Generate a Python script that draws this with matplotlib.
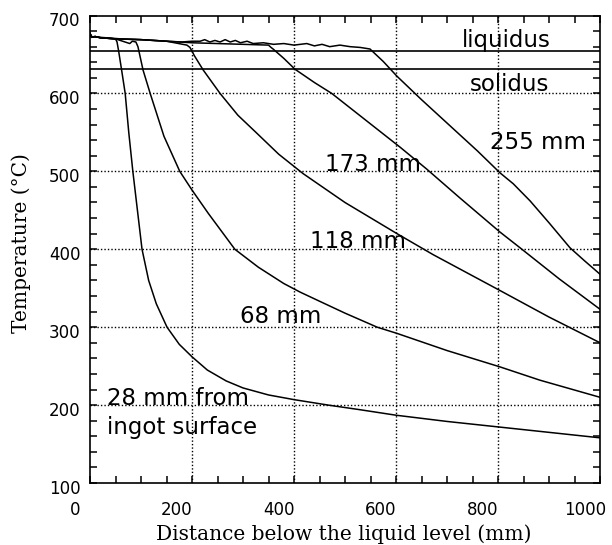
import matplotlib
matplotlib.use("Agg")
import matplotlib.pyplot as plt
from matplotlib.ticker import MultipleLocator
from matplotlib.transforms import ScaledTranslation

# ---------------- data ----------------
# common liquid plateau (distance mm, temperature C)
plateau_x = [0, 3, 10, 20, 50, 100, 150, 200, 250, 300, 350, 400, 450, 500, 540]
plateau_T = [677, 672, 673, 671.5, 670, 669, 667, 665, 664, 663, 662, 661.5, 660.5, 659, 658]

# 28 mm from ingot surface
c28_x = [53, 56, 62, 69, 76, 84, 93, 102, 115, 130, 151, 175, 200, 230, 267, 300,
         350, 400, 467, 530, 600, 700, 800, 900, 1000]
c28_T = [666, 655, 630, 600, 550, 500, 450, 400, 360, 330, 300, 278, 262, 245, 231, 222,
         213, 207, 200, 194, 187, 179, 172, 165, 158]

# 68 mm
c68_x = [78, 83, 90, 94, 99, 104, 118, 145, 176, 200, 232, 284, 330, 380, 412, 451,
         500, 563, 602, 700, 804, 882, 1000]
c68_T = [664, 667, 666, 660, 645, 630, 600, 545, 500, 476, 446, 400, 377, 356, 345, 333,
         318, 300, 292, 270, 249, 232, 210]

# 118 mm
c118_x = [190, 196, 205, 222, 255, 290, 327, 370, 418, 500, 602, 673, 804, 900, 1000]
c118_T = [662, 659, 648, 630, 600, 572, 549, 522, 497, 460, 420, 393, 347, 313, 280]

# 173 mm
c173_x = [355, 359, 380, 402, 440, 474, 540, 608, 660, 725, 804, 843, 920, 1000]
c173_T = [659, 657, 645, 631, 614, 600, 566, 531, 503, 466, 422, 402, 362, 323]

# 255 mm (its own, noisier liquid plateau)
c255_x = [0, 3, 20, 60, 100, 150, 180, 200, 216, 225, 235, 245, 255, 265, 275, 285,
          295, 308, 320, 340, 360, 380, 400, 425, 440, 455, 470, 490, 510, 530, 549,
          575, 602, 650, 700, 760, 804, 830, 863, 900, 941, 970, 1000]
c255_T = [677, 673, 672, 670, 669, 667, 666, 667, 667, 669, 666, 668, 666, 669, 666, 668,
          665, 667, 664, 665, 663, 664, 662, 664, 661, 663, 660, 662, 660, 659, 657,
          641, 622, 592, 562, 526, 498, 484, 462, 434, 402, 385, 368]

liquidus_T = 655
solidus_T = 631

x_ticks = [0, 200, 400, 600, 800, 1000]
y_ticks = [100, 200, 300, 400, 500, 600, 700]
grid_x = [200, 400, 600, 800]
grid_y = [200, 300, 400, 500, 600]

# ---------------- figure ----------------
fig = plt.figure(figsize=(6.12, 5.45), dpi=100)
ax = fig.add_axes([90 / 612, 1 - 483 / 545, 510 / 612, 467.5 / 545])

lw = 1.1
def with_plateau(xs, Ts):
    px = [x for x in plateau_x if x < xs[0]]
    pT = [t for x, t in zip(plateau_x, plateau_T) if x < xs[0]]
    return px + xs, pT + Ts

for xs, Ts in [(c28_x, c28_T), (c68_x, c68_T), (c118_x, c118_T), (c173_x, c173_T)]:
    X, T = with_plateau(xs, Ts)
    ax.plot(X, T, color="black", lw=lw)
ax.plot(c255_x, c255_T, color="black", lw=lw)

ax.axhline(liquidus_T, color="black", lw=1.2)
ax.axhline(solidus_T, color="black", lw=1.2)

for gx in grid_x:
    ax.axvline(gx, color="black", lw=1.0, ls=(0, (1, 1.5)))
for gy in grid_y:
    ax.axhline(gy, color="black", lw=1.0, ls=(0, (1, 1.5)))

ax.set_xlim(0, 1000)
ax.set_ylim(100, 700)
ax.set_xticks(x_ticks)
ax.set_yticks(y_ticks)
ax.xaxis.set_minor_locator(MultipleLocator(50))
ax.yaxis.set_minor_locator(MultipleLocator(20))
ax.tick_params(which="both", direction="in", top=True, right=True,
               length=5, width=1.1, color="black")
ax.tick_params(axis="x", which="major", pad=13, labelsize=12)
ax.tick_params(axis="y", which="major", pad=7, labelsize=12)
for s in ax.spines.values():
    s.set_linewidth(1.2)

dx = ScaledTranslation(-15 / 100, 0, fig.dpi_scale_trans)
for lab in ax.get_xticklabels():
    lab.set_transform(lab.get_transform() + dx)
dy = ScaledTranslation(0, -4 / 100, fig.dpi_scale_trans)
for lab in ax.get_yticklabels():
    lab.set_transform(lab.get_transform() + dy)

fs = 16.5
ax.text(729, 660, "liquidus", fontsize=fs, va="baseline", ha="left")
ax.text(745, 603, "solidus", fontsize=fs, va="baseline", ha="left")
ax.text(784, 529, "255 mm", fontsize=fs, va="baseline", ha="left")
ax.text(461, 500, "173 mm", fontsize=fs, va="baseline", ha="left")
ax.text(431, 401, "118 mm", fontsize=fs, va="baseline", ha="left")
ax.text(294, 305, "68 mm", fontsize=fs, va="baseline", ha="left")
ax.text(33, 200, "28 mm from", fontsize=fs, va="baseline", ha="left")
ax.text(33, 163, "ingot surface", fontsize=fs, va="baseline", ha="left")

fig.text(344 / 612, 1 - 534 / 545, "Distance below the liquid level (mm)",
         family="DejaVu Serif", fontsize=14.5, ha="center", va="center")
fig.text(21 / 612, 1 - 243.5 / 545, "Temperature (°C)",
         family="DejaVu Serif", fontsize=14.5, ha="center", va="center", rotation=90)

fig.savefig("out.png", dpi=100)
